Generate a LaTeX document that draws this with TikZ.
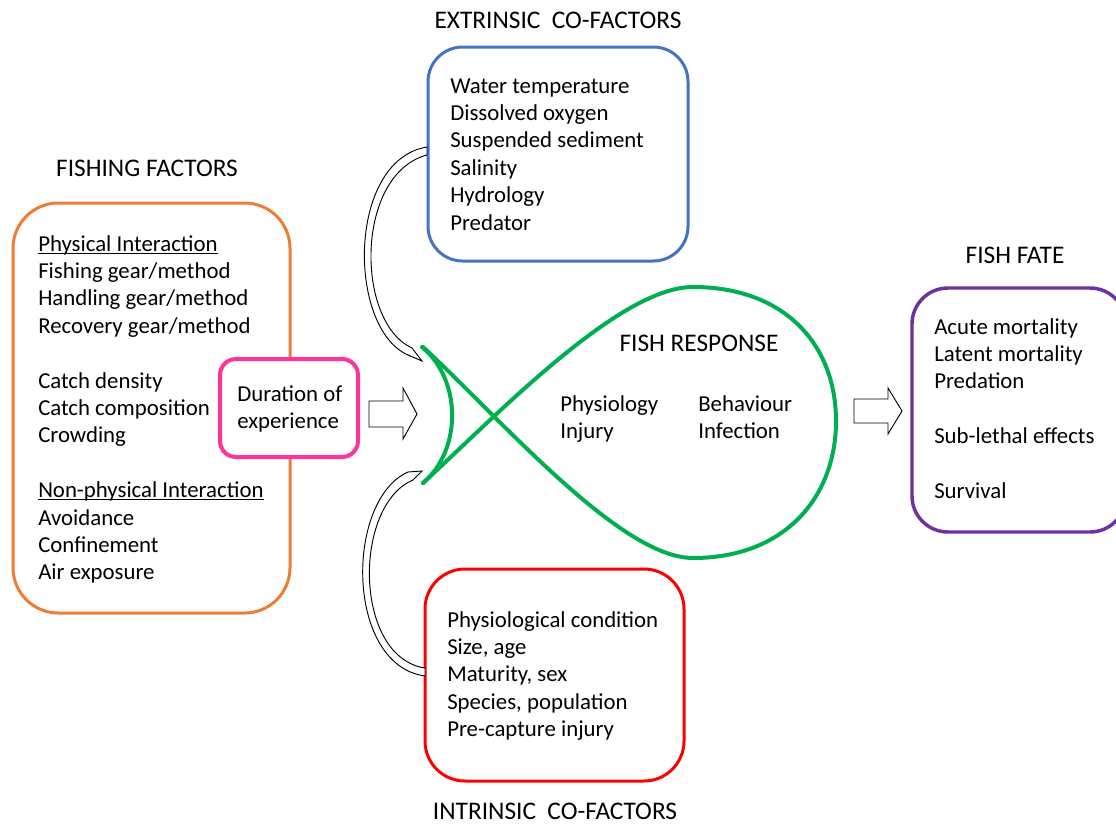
\documentclass[tikz,border=0pt]{standalone}
\usepackage{fontspec}
\setmainfont{Carlito}
\usetikzlibrary{fit}
\definecolor{cOrange}{HTML}{ED7D31}
\definecolor{cBlue}{HTML}{4472C4}
\definecolor{cRed}{HTML}{FF0000}
\definecolor{cPurple}{HTML}{7030A0}
\definecolor{cGreen}{HTML}{00B050}
\definecolor{cPink}{HTML}{FF3399}
\begin{document}
\begin{tikzpicture}[x=0.75pt,y=-0.75pt,
  txt/.style={anchor=base west, inner sep=0pt, font=\fontsize{17.1}{20}\selectfont},
  ttl/.style={anchor=base, inner sep=0pt, font=\fontsize{19}{22}\selectfont},
  framebox/.style={inner sep=0pt, draw, line width=2.25pt, fill=white},
  hollow/.style={draw=black, line width=0.7pt, fill=white, line join=miter},
  fishline/.style={draw=cGreen, line width=3pt, line cap=round, line join=round},
  uline/.style={line width=0.75pt}
]
\clip (0,0) rectangle (1116,825);
\fill[white] (0,0) rectangle (1116,825);

% ---------- boxes ----------
\node[framebox, draw=cOrange, rounded corners=34pt, fit={(13,203) (290,613)}] (ff) {};
\node[framebox, draw=cBlue, rounded corners=26pt, fit={(428,47) (688,261)}] (ext) {};
\node[framebox, draw=cRed, rounded corners=30pt, fit={(425,569) (684,781)}] (intr) {};
\node[framebox, draw=cPurple, line width=2.6pt, rounded corners=27pt, fit={(912,288) (1126,532)}] (fate) {};
\node[framebox, draw=cPink, line width=3pt, rounded corners=12pt, fit={(220,359) (358,457)}] (dur) {};

% ---------- titles ----------
\node[ttl] (tff) at (147,176) {FISHING FACTORS};
\node[ttl] (text) at (558,28) {EXTRINSIC\ \ CO-FACTORS};
\node[ttl] (tint) at (555,819.5) {INTRINSIC\ \ CO-FACTORS};
\node[ttl] (tfate) at (1015,263) {FISH FATE};
\node[ttl] (tresp) at (699,351) {FISH RESPONSE};

% ---------- fishing factors ----------
\node[txt] (f0) at (38,251) {Physical Interaction};
\node[txt] (f1) at (38,278.4) {Fishing gear/method};
\node[txt] (f2) at (38,305.8) {Handling gear/method};
\node[txt] (f3) at (38,333.2) {Recovery gear/method};
\node[txt] (f5) at (38,388) {Catch density};
\node[txt] (f6) at (38,415.4) {Catch composition};
\node[txt] (f7) at (38,442.8) {Crowding};
\node[txt] (f9) at (38,497.6) {Non-physical Interaction};
\node[txt] (f10) at (38,525) {Avoidance};
\node[txt] (f11) at (38,552.4) {Confinement};
\node[txt] (f12) at (38,579.8) {Air exposure};
\draw[uline] ([yshift=-1.6pt]f0.base west) -- ([yshift=-1.6pt]f0.base east);
\draw[uline] ([yshift=-1.6pt]f9.base west) -- ([yshift=-1.6pt]f9.base east);

% ---------- duration ----------
\node[txt] (d1) at (237,401) {Duration of};
\node[txt] (d2) at (237,428.4) {experience};

% ---------- extrinsic ----------
\node[txt] (e1) at (450,93) {Water temperature};
\node[txt] (e2) at (450,120.4) {Dissolved oxygen};
\node[txt] (e3) at (450,147.8) {Suspended sediment};
\node[txt] (e4) at (450,175.2) {Salinity};
\node[txt] (e5) at (450,202.6) {Hydrology};
\node[txt] (e6) at (450,230) {Predator};

% ---------- intrinsic ----------
\node[txt] (i1) at (447,627) {Physiological condition};
\node[txt] (i2) at (447,654.4) {Size, age};
\node[txt] (i3) at (447,681.8) {Maturity, sex};
\node[txt] (i4) at (447,709.2) {Species, population};
\node[txt] (i5) at (447,736.6) {Pre-capture injury};

% ---------- fate ----------
\node[txt] (a1) at (934,334) {Acute mortality};
\node[txt] (a2) at (934,361.4) {Latent mortality};
\node[txt] (a3) at (934,388.8) {Predation};
\node[txt] (a4) at (934,443.6) {Sub-lethal effects};
\node[txt] (a5) at (934,498.4) {Survival};

% ---------- fish ----------
\draw[fishline] (423,483) .. controls (500,412) and (620,287) .. (693,287)
  .. controls (785,287) and (836,345) .. (836,421)
  .. controls (836,497) and (785,558) .. (693,558)
  .. controls (620,558) and (500,418) .. (423,347);
\draw[fishline] (422,347) .. controls (462,380) and (462,450) .. (423,483);
\node[txt] (r1) at (560,411) {Physiology};
\node[txt] (r2) at (560,438.4) {Injury};
\node[txt] (r3) at (698,411) {Behaviour};
\node[txt] (r4) at (698,438.4) {Infection};

% ---------- block arrows ----------
\draw[hollow] (369,401) -- (403,401) -- (403,388) -- (417,414) -- (403,439) -- (403,427) -- (369,427) -- cycle;
\draw[hollow] (854,399) -- (888,399) -- (888,388) -- (902,411) -- (888,434) -- (888,423) -- (854,423) -- cycle;

% ---------- curved arrows ----------
\draw[hollow] (427,147) .. controls (347,160) and (347,328) .. (408,355)
  -- (422,361) -- (412,348)
  .. controls (355,322) and (355,174) .. (427,155) -- cycle;
\draw[hollow] (425,676) .. controls (345,665) and (345,500) .. (408,472)
  -- (422,471) -- (413,480)
  .. controls (353,505) and (353,657) .. (425,668) -- cycle;
\end{tikzpicture}
\end{document}
